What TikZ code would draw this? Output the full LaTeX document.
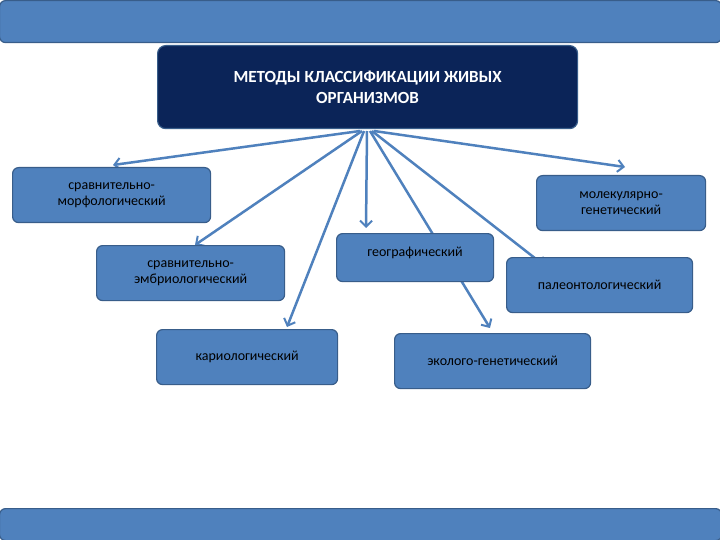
\documentclass[tikz,border=0pt]{standalone}
\usepackage{fontspec}
\setmainfont{Carlito}
\usetikzlibrary{arrows.meta}
\definecolor{bfill}{HTML}{4F81BD}
\definecolor{bline}{HTML}{385D8A}
\definecolor{navy}{HTML}{0B2458}
\begin{document}
\begin{tikzpicture}[x=1pt,y=-1pt,
  box/.style={fill=bfill,draw=bline,line width=1.2pt,rounded corners=6pt,font=\fontsize{14}{16}\selectfont,align=center,inner sep=0pt},
  arr/.style={draw=bfill,line width=2.5pt,-{Straight Barb[length=6pt,width=12pt,line width=2pt]}}]
\useasboundingbox (0,0) rectangle (720,540);
\fill[white] (0,0) rectangle (720,540);
% bars
\node[box,minimum width=722pt,minimum height=42pt,anchor=north west] (topbar) at (-1,0) {};
\node[box,minimum width=722pt,minimum height=32pt,anchor=north west] (botbar) at (-1,508) {};
% title
\node[fill=navy,draw=bline,line width=1.2pt,rounded corners=8pt,minimum width=420pt,minimum height=83pt,anchor=north west,text=white,font=\bfseries\fontsize{17}{21}\selectfont,align=center,inner sep=0pt] (title) at (157,45) {МЕТОДЫ КЛАССИФИКАЦИИ ЖИВЫХ\\ОРГАНИЗМОВ};
% coordinates
\coordinate (s1) at (360,131); \coordinate (t1) at (113,165);
\coordinate (s2) at (362,131); \coordinate (t2) at (195,245);
\coordinate (s3) at (364,131); \coordinate (t3) at (287,327);
\coordinate (s4) at (367,131); \coordinate (t4) at (366,228);
\coordinate (s5) at (370,131); \coordinate (t5) at (490,328);
\coordinate (s6) at (372,131); \coordinate (t6) at (545,266);
\coordinate (s7) at (374,131); \coordinate (t7) at (625,167);
\foreach \i in {1,...,7} \draw[arr] (s\i) -- (t\i);
% boxes
\node[box,minimum width=198pt,minimum height=55pt,anchor=north west] (morf) at (12,167) {сравнительно-\\морфологический};
\node[box,minimum width=169pt,minimum height=55pt,anchor=north west] (mol) at (536,175) {молекулярно-\\генетический};
\node[box,minimum width=188pt,minimum height=55pt,anchor=north west] (embr) at (96,245) {сравнительно-\\эмбриологический};
\node[box,minimum width=157pt,minimum height=48pt,anchor=north west,text depth=12pt] (geo) at (336,233) {географический};
\node[box,minimum width=186pt,minimum height=55pt,anchor=north west] (paleo) at (506,257) {палеонтологический};
\node[box,minimum width=181pt,minimum height=55pt,anchor=north west] (kario) at (156,329) {кариологический};
\node[box,minimum width=196pt,minimum height=55pt,anchor=north west] (eco) at (394,333) {эколого-генетический};
\end{tikzpicture}
\end{document}
